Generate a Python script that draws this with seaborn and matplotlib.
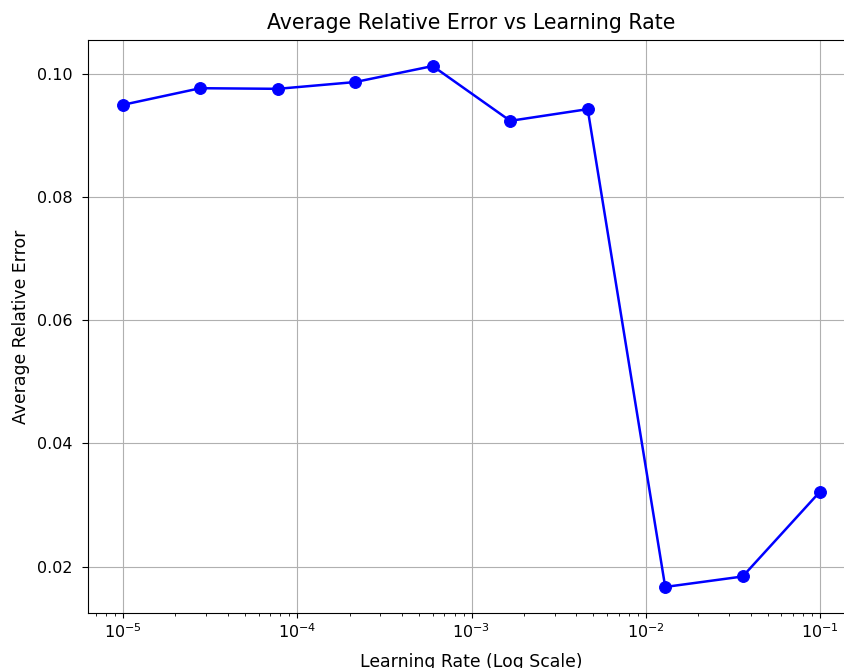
import numpy as np
import pandas as pd
import matplotlib
matplotlib.use("Agg")
import matplotlib.pyplot as plt
import seaborn as sns

# Learning rates swept (log-spaced from 1e-5 to 1e-1)
learning_rates = [1e-5, 2.78e-5, 7.74e-5, 2.15e-4, 5.99e-4,
                  1.668e-3, 4.64e-3, 1.292e-2, 3.594e-2, 1e-1]
# Average relative error obtained at each learning rate
avg_rel_error = [0.0950, 0.0977, 0.0976, 0.0987, 0.1013,
                 0.0924, 0.0943, 0.0167, 0.0184, 0.0322]

df = pd.DataFrame({"lr": learning_rates, "err": avg_rel_error})

fig = plt.figure(figsize=(8.45, 6.68), dpi=100)
ax = fig.add_axes([88 / 845, 55 / 668, 767 / 845, 573 / 668])

sns.lineplot(data=df, x="lr", y="err", ax=ax, color="blue", marker="o",
             markersize=8.5, markeredgecolor="blue", linewidth=1.8)
ax.set_xscale("log")
ax.grid(True, which="major", color="#b0b0b0", linewidth=0.8)
ax.set_axisbelow(True)

ax.set_title("Average Relative Error vs Learning Rate", fontsize=14.8, pad=8)
ax.set_xlabel("Learning Rate (Log Scale)", fontsize=12.4, labelpad=8)
ax.set_ylabel("Average Relative Error", fontsize=12.4, labelpad=5)
ax.tick_params(labelsize=11.5)
ax.tick_params(axis="y", length=4.5, pad=6.5)

fig.savefig("out.png", dpi=100)
